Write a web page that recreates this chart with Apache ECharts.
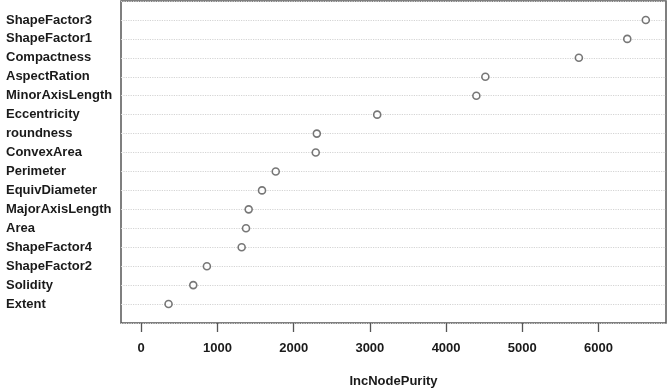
<!DOCTYPE html>
<html>
<head>
<meta charset="utf-8">
<script src="https://cdn.jsdelivr.net/npm/echarts@6/dist/echarts.min.js"></script>
<style>
  html, body { margin: 0; padding: 0; background: #fff; }
  #chart { width: 669px; height: 391px; }
</style>
</head>
<body>
<div id="chart"></div>
<script>
// variables, top to bottom as in the plot
const variables = [
    "ShapeFactor3", "ShapeFactor1", "Compactness", "AspectRation", "MinorAxisLength",
    "Eccentricity", "roundness", "ConvexArea", "Perimeter", "EquivDiameter",
    "MajorAxisLength", "Area", "ShapeFactor4", "ShapeFactor2", "Solidity", "Extent"
];
const incNodePurity = [
    6620, 6377, 5742, 4515, 4397,
    3096, 2304, 2290, 1765, 1585,
    1410, 1375, 1318, 862, 683, 359
];
const xTicks = [0, 1000, 2000, 3000, 4000, 5000, 6000];

const n = variables.length;
// row index: bottom row = 1, top row = n
const points = incNodePurity.map((v, i) => [v, n - i]);
const rowIndex = variables.map((_, i) => n - i);

const chart = echarts.init(document.getElementById("chart"), undefined, { renderer: "canvas" });

const option = {
    backgroundColor: "#ffffff",
    animation: false,
    textStyle: { fontFamily: "Liberation Sans, Arial, sans-serif" },
    grid: {
        left: 121,
        right: 3,
        top: 1,
        bottom: 68,
        outerBoundsMode: "none",
        containLabel: false,
        show: true,
        borderColor: "#555555",
        borderWidth: 1.5,
    },
    xAxis: {
        type: "value",
        min: -265,
        max: 6885,
        name: "IncNodePurity",
        nameLocation: "middle",
        nameGap: 52,
        nameTextStyle: { color: "#1a1a1a", fontSize: 13, fontWeight: "bold" },
        axisLine: { show: false },
        axisTick: { show: true, inside: false, length: 9, customValues: xTicks, lineStyle: { color: "#555", width: 1.3 } },
        axisLabel: {
            customValues: xTicks,
            color: "#1a1a1a",
            fontSize: 13,
            fontWeight: "bold",
            margin: 19,
            formatter: (v) => String(v),
        },
        splitLine: { show: false },
    },
    yAxis: {
        type: "value",
        min: 0,
        max: n + 1,
        interval: 1,
        axisLine: { show: false },
        axisTick: { show: false },
        axisLabel: {
            customValues: rowIndex,
            align: "left",
            margin: 115,
            color: "#1a1a1a",
            fontSize: 13,
            fontWeight: "bold",
            formatter: (v) => variables[n - v] ?? "",
        },
        splitLine: { show: true, lineStyle: { color: "#d4d4d4", type: "dotted", width: 1.2 } },
    },
    series: [
        {
            type: "scatter",
            data: points,
            symbol: "circle",
            symbolSize: 7,
            itemStyle: { color: "#ffffff", borderColor: "#555555", borderWidth: 1.6 },
        },
    ],
};

chart.setOption(option);
</script>
</body>
</html>
